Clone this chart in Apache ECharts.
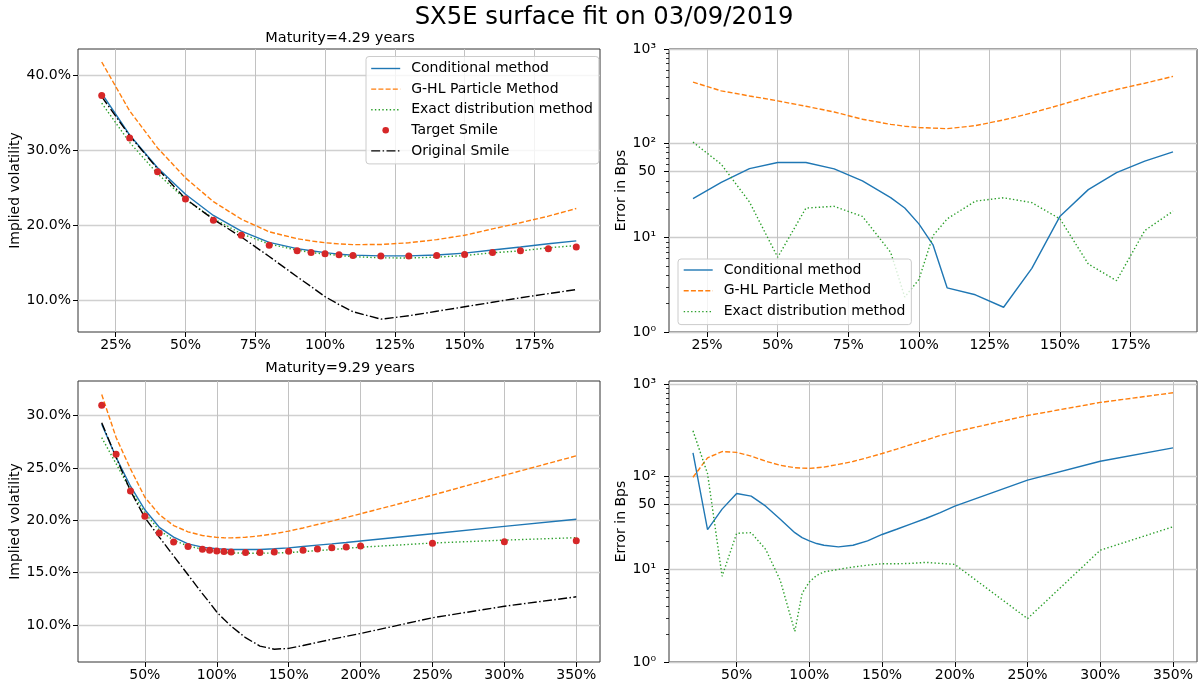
<!DOCTYPE html>
<html>
<head>
<meta charset="utf-8">
<title>SX5E surface fit</title>
<script src="https://cdn.jsdelivr.net/npm/echarts@6/dist/echarts.min.js"></script>
<style>
  html, body { margin: 0; padding: 0; background: #fff; }
  #chart { width: 1202px; height: 687px; }
</style>
</head>
<body>
<div id="chart"></div>
<script>
// strikes in % of spot
const strikesT1 = [20, 30, 40, 50, 60, 70, 80, 90, 95, 100, 105, 110, 120, 130, 140, 150, 160, 170, 180, 190];
const strikesT2 = [20, 30, 40, 50, 60, 70, 80, 90, 95, 100, 105, 110, 120, 130, 140, 150, 160, 170, 180, 190, 200, 250, 300, 350];

// Maturity 4.29y, implied vols in %
const targetT1 = [37.27, 31.6, 27.08, 23.46, 20.64, 18.63, 17.29, 16.58, 16.35, 16.17, 16.03, 15.95, 15.86, 15.86, 15.95, 16.08, 16.35, 16.58, 16.84, 17.07];
const condT1 = [37.53, 31.99, 27.62, 24.09, 21.27, 19.17, 17.69, 16.85, 16.56, 16.31, 16.11, 15.98, 15.88, 15.88, 16.0, 16.25, 16.67, 17.07, 17.49, 17.88];
const ghlT1 = [41.72, 35.2, 30.26, 26.28, 23.11, 20.78, 19.09, 18.17, 17.87, 17.64, 17.48, 17.38, 17.4, 17.63, 18.05, 18.63, 19.48, 20.3, 21.18, 22.19];
const exactT1 = [36.24, 31.0, 26.84, 23.4, 20.85, 18.84, 17.46, 16.65, 16.33, 16.13, 15.93, 15.79, 15.62, 15.6, 15.72, 15.92, 16.3, 16.55, 16.96, 17.26];
const origT1 = [37.1, 31.9, 27.5, 23.5, 20.75, 18.4, 15.8, 13.1, 11.8, 10.45, 9.4, 8.45, 7.45, 7.9, 8.5, 9.1, 9.7, 10.3, 10.85, 11.4];

// Maturity 9.29y, implied vols in %
const targetT2 = [30.98, 26.29, 22.8, 20.38, 18.79, 17.94, 17.49, 17.24, 17.14, 17.08, 17.02, 16.98, 16.92, 16.92, 16.98, 17.05, 17.14, 17.27, 17.37, 17.45, 17.55, 17.8, 17.95, 18.05];
const condT2 = [29.17, 26.02, 23.25, 21.0, 19.33, 18.39, 17.75, 17.44, 17.35, 17.28, 17.25, 17.22, 17.22, 17.22, 17.28, 17.37, 17.5, 17.63, 17.75, 17.88, 18.03, 18.72, 19.42, 20.1];
const ghlT2 = [32.0, 27.9, 24.9, 22.2, 20.55, 19.5, 18.9, 18.55, 18.45, 18.37, 18.33, 18.32, 18.38, 18.52, 18.72, 18.97, 19.27, 19.6, 19.92, 20.27, 20.62, 22.4, 24.3, 26.15];
const exactT2 = [27.88, 25.4, 22.9, 20.7, 19.05, 18.1, 17.55, 17.24, 17.1, 16.98, 16.93, 16.89, 16.86, 16.86, 16.88, 16.92, 17.01, 17.11, 17.2, 17.32, 17.43, 17.83, 18.11, 18.34];
const origT2 = [29.3, 26.0, 22.8, 20.25, 18.4, 16.6, 14.8, 13.0, 12.15, 11.25, 10.55, 9.9, 8.8, 8.0, 7.7, 7.78, 8.05, 8.35, 8.65, 8.93, 9.2, 10.7, 11.8, 12.7];

// fit errors in bps
const errCondT1 = [25.9, 38.6, 54, 62.6, 62.6, 53.6, 39.9, 26.6, 20.6, 14.0, 8.4, 2.94, 2.48, 1.83, 4.73, 16.9, 32.3, 49, 64.7, 81.3];
const errGhlT1 = [445, 360, 318, 282, 247, 215, 180, 159, 152, 147, 145, 143, 154, 177, 210, 255, 313, 372, 434, 512];
const errExactT1 = [103, 60, 23.9, 6.2, 20.6, 21.5, 16.8, 7.0, 2.35, 3.6, 10.5, 15.8, 24.4, 26.5, 23.5, 15.8, 5.26, 3.5, 11.9, 19.1];
const errCondT2 = [181, 26.9, 44.7, 65.9, 61.7, 48.1, 34.8, 24.9, 22.0, 20.3, 19.0, 18.2, 17.5, 18.2, 20.3, 23.8, 27.1, 31.0, 35.4, 41.0, 48.1, 91.8, 147, 205];
const errGhlT2 = [98.8, 160, 187, 183, 167, 147, 133, 125, 124, 123, 125, 127, 136, 146, 161, 178, 199, 223, 248, 279, 305, 458, 634, 806];
const errExactT2 = [313, 108, 8.43, 24.5, 24.9, 16.4, 7.6, 2.14, 5.5, 7.3, 8.6, 9.4, 10.0, 10.6, 11.1, 11.5, 11.5, 11.6, 11.9, 11.6, 11.3, 2.94, 16.1, 28.8];

// tick labels
const xTicksT1 = [25, 50, 75, 100, 125, 150, 175];
const xTicksT2 = [50, 100, 150, 200, 250, 300, 350];
const volTicksT1 = [10, 20, 30, 40];
const volTicksT2 = [10, 15, 20, 25, 30];
const errTicks = [1, 10, 50, 100, 1000];
const errMinorTicks = [2, 3, 4, 5, 6, 7, 8, 9, 20, 30, 40, 60, 70, 80, 90, 200, 300, 400, 500, 600, 700, 800, 900];

const NAMES = ['Conditional method', 'G-HL Particle Method', 'Exact distribution method', 'Target Smile', 'Original Smile'];
const COLORS = ['#1f77b4', '#ff7f0e', '#2ca02c', '#d62728', '#000000'];
const DASHES = ['solid', [5, 2.2], [1.4, 2.3], null, [9, 2.4, 1.5, 2.4]];
const SUP = {1: '10\u2070', 10: '10\u00b9', 100: '10\u00b2', 1000: '10\u00b3'};

const pairs = (xs, ys) => xs.map((x, i) => [x, ys[i]]);

function lineSeries(k, idx, xs, ys) {
  return {
    name: NAMES[k], type: 'line', xAxisIndex: idx, yAxisIndex: idx,
    data: pairs(xs, ys), symbol: 'none', z: 2,
    lineStyle: {color: COLORS[k], width: 1.4, type: DASHES[k]},
    itemStyle: {color: COLORS[k]}
  };
}

function xAxisFor(idx, min, max, ticks) {
  return {
    type: 'value', gridIndex: idx, min: min, max: max,
    axisLine: {show: false},
    axisTick: {show: true, length: 5, customValues: ticks, lineStyle: {color: '#000'}},
    axisLabel: {customValues: ticks, formatter: v => v + '%', color: '#000', fontSize: 14, margin: 6},
    splitLine: {show: true, lineStyle: {color: '#c2c2c2', width: 1}}
  };
}

function volAxis(idx, min, max, ticks) {
  return {
    type: 'value', gridIndex: idx, min: min, max: max,
    name: 'Implied volatility', nameLocation: 'middle', nameGap: 54, nameRotate: 90,
    nameTextStyle: {color: '#000', fontSize: 14},
    axisLine: {show: false},
    axisTick: {show: true, length: 5, customValues: ticks, lineStyle: {color: '#000'}},
    axisLabel: {customValues: ticks, formatter: v => v.toFixed(1) + '%', color: '#000', fontSize: 14, margin: 7},
    splitLine: {show: true, lineStyle: {color: '#d0d0d0', width: 1.4}}
  };
}

function errAxis(idx, max) {
  return {
    type: 'log', logBase: 10, gridIndex: idx, min: 1, max: max, position: 'left',
    name: 'Error in Bps', nameLocation: 'middle', nameGap: 41, nameRotate: 90,
    nameTextStyle: {color: '#000', fontSize: 14},
    axisLine: {show: false},
    axisTick: {show: true, length: 5, customValues: errTicks, lineStyle: {color: '#000'}},
    axisLabel: {customValues: errTicks, formatter: v => SUP[Math.round(v)] || String(Math.round(v)), color: '#000', fontSize: 14, margin: 13},
    splitLine: {show: true, lineStyle: {color: '#cccccc', width: 1.4}}
  };
}

// second left axis on the error grids, only for the log minor ticks
function minorAxis(idx, max) {
  return {
    type: 'log', logBase: 10, gridIndex: idx, min: 1, max: max, position: 'left', offset: 0,
    axisLine: {show: false},
    axisTick: {show: true, length: 3, customValues: errMinorTicks, lineStyle: {color: '#000', width: 0.8}},
    axisLabel: {show: false},
    splitLine: {show: false}
  };
}

const lineItem = name => ({name: name, itemStyle: {opacity: 0}});
const legendBase = {
  orient: 'vertical', itemWidth: 29, itemHeight: 14,
  backgroundColor: 'rgba(255,255,255,0.8)', borderColor: '#cccccc', borderWidth: 1, borderRadius: 3,
  lineStyle: {width: 1.4},
  textStyle: {color: '#000', fontSize: 14, lineHeight: 14, padding: [0, 0, 0, 6]}
};

const myChart = echarts.init(document.getElementById('chart'), null, {renderer: 'canvas'});

let option = {
  animation: false,
  backgroundColor: '#fff',
  textStyle: {fontFamily: 'DejaVu Sans'},
  title: [
    {text: 'SX5E surface fit on 03/09/2019', left: 604, top: 6, textAlign: 'center', padding: 0,
     textStyle: {fontSize: 24.3, fontWeight: 'normal', color: '#000'}},
    {text: 'Maturity=4.29 years', left: 340, top: 30.5, textAlign: 'center', padding: 0,
     textStyle: {fontSize: 14.5, fontWeight: 'normal', color: '#000'}},
    {text: 'Maturity=9.29 years', left: 340, top: 360.5, textAlign: 'center', padding: 0,
     textStyle: {fontSize: 14.5, fontWeight: 'normal', color: '#000'}}
  ],
  legend: [
    Object.assign({}, legendBase, {
      left: 366, top: 56.5, padding: [5, 6, 6, 4.5], itemGap: 6.6,
      data: [lineItem(NAMES[0]), lineItem(NAMES[1]), lineItem(NAMES[2]),
             {name: NAMES[3], icon: 'path://M0,0M29,14M11.2,7A3.3,3.3 0 1 1 17.8,7A3.3,3.3 0 1 1 11.2,7Z'},
             lineItem(NAMES[4])]
    }),
    Object.assign({}, legendBase, {
      left: 678, top: 259, padding: [4, 6, 6, 5], itemGap: 6.8,
      data: [lineItem(NAMES[0]), lineItem(NAMES[1]), lineItem(NAMES[2])]
    })
  ],
  grid: [
    {left: 78, top: 49, width: 522, height: 283, show: true, borderColor: '#333', borderWidth: 1},
    {left: 669, top: 49, width: 528, height: 283, show: true, borderColor: '#333', borderWidth: 1},
    {left: 78, top: 381, width: 522, height: 281, show: true, borderColor: '#333', borderWidth: 1},
    {left: 669, top: 381, width: 528, height: 281, show: true, borderColor: '#333', borderWidth: 1}
  ],
  xAxis: [
    xAxisFor(0, 11.5, 198.5, xTicksT1),
    xAxisFor(1, 11.5, 198.5, xTicksT1),
    xAxisFor(2, 3.5, 366.5, xTicksT2),
    xAxisFor(3, 3.5, 366.5, xTicksT2)
  ],
  yAxis: [
    volAxis(0, 5.74, 43.45, volTicksT1),
    errAxis(1, 1000),
    volAxis(2, 6.48, 33.29, volTicksT2),
    errAxis(3, 1080),
    minorAxis(1, 1000),
    minorAxis(3, 1080)
  ],
  series: [
    lineSeries(0, 0, strikesT1, condT1),
    lineSeries(1, 0, strikesT1, ghlT1),
    lineSeries(2, 0, strikesT1, exactT1),
    {name: NAMES[3], type: 'scatter', xAxisIndex: 0, yAxisIndex: 0, data: pairs(strikesT1, targetT1),
     symbolSize: 7, z: 3, itemStyle: {color: COLORS[3], opacity: 1}},
    lineSeries(4, 0, strikesT1, origT1),

    lineSeries(0, 1, strikesT1, errCondT1),
    lineSeries(1, 1, strikesT1, errGhlT1),
    lineSeries(2, 1, strikesT1, errExactT1),

    lineSeries(0, 2, strikesT2, condT2),
    lineSeries(1, 2, strikesT2, ghlT2),
    lineSeries(2, 2, strikesT2, exactT2),
    {name: NAMES[3], type: 'scatter', xAxisIndex: 2, yAxisIndex: 2, data: pairs(strikesT2, targetT2),
     symbolSize: 7, z: 3, itemStyle: {color: COLORS[3], opacity: 1}},
    lineSeries(4, 2, strikesT2, origT2),

    lineSeries(0, 3, strikesT2, errCondT2),
    lineSeries(1, 3, strikesT2, errGhlT2),
    lineSeries(2, 3, strikesT2, errExactT2)
  ]
};

myChart.setOption(option);
</script>
</body>
</html>
